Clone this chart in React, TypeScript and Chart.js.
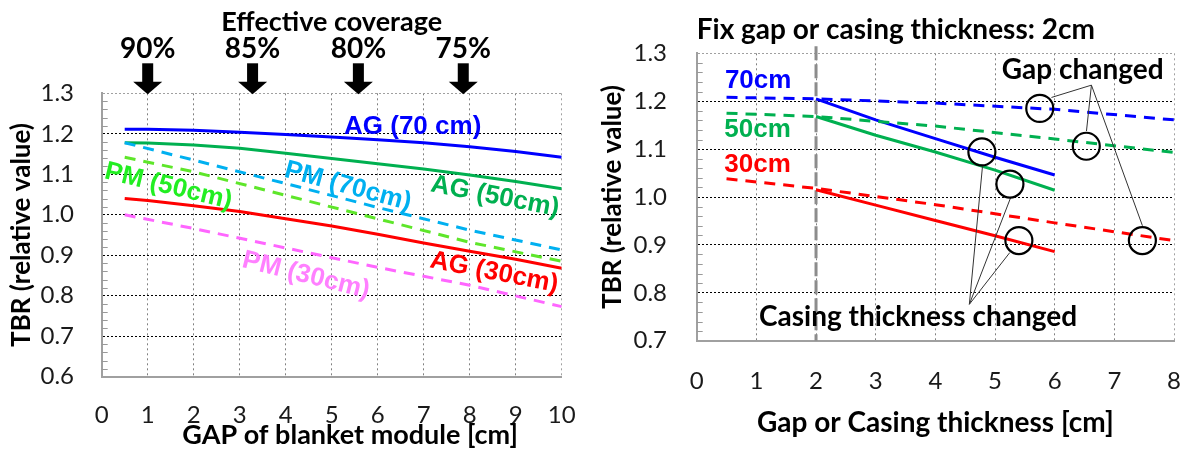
import React, { useEffect, useRef } from 'react';
import { Chart, registerables } from 'chart.js';

Chart.register(...registerables);

// ---------------- LEFT CHART DATA ----------------
const leftGap = [0.5, 1, 2, 3, 4, 5, 6, 7, 8, 9, 10];
const ag70 = [1.211, 1.211, 1.209, 1.204, 1.198, 1.192, 1.185, 1.178, 1.168, 1.156, 1.142];
const ag50 = [1.178, 1.177, 1.172, 1.164, 1.152, 1.139, 1.126, 1.113, 1.098, 1.082, 1.064];
const ag30 = [1.04, 1.035, 1.022, 1.008, 0.99, 0.972, 0.952, 0.93, 0.91, 0.89, 0.868];
const pmGap = [0.5, 2, 4, 6, 8, 10];
const pm70 = [1.178, 1.135, 1.077, 1.018, 0.962, 0.913];
const pm50 = [1.142, 1.106, 1.048, 0.99, 0.932, 0.885];
const pm30 = [1.0, 0.966, 0.918, 0.87, 0.826, 0.773];

const coverageLabels = ['90%', '85%', '80%', '75%'];
const coverageGap = [1, 3.28, 5.58, 7.86];

const leftLabelTexts = ['AG (70 cm)', 'AG (50cm)', 'AG (30cm)', 'PM (70cm)', 'PM (50cm)', 'PM (30cm)'];
const leftLabelX = [6.76, 8.55, 8.53, 5.35, 1.45, 4.44];
const leftLabelY = [1.217, 1.045, 0.857, 1.07, 1.07, 0.85];
const leftLabelAngle = [0, 11, 11, 15, 13.6, 14];
const leftXTitle = { text: 'GAP of blanket module [cm]', x: 5.4 };

// ---------------- RIGHT CHART DATA ----------------
const gapX = [0.5, 2, 4, 6, 8];
const gap70 = [1.208, 1.205, 1.196, 1.183, 1.161];
const gap50 = [1.175, 1.168, 1.148, 1.121, 1.093];
const gap30 = [1.038, 1.018, 0.984, 0.946, 0.909];
const casingX = [2, 3, 4, 5, 6];
const casing70 = [1.205, 1.161, 1.122, 1.083, 1.046];
const casing50 = [1.168, 1.129, 1.094, 1.056, 1.014];
const casing30 = [1.015, 0.983, 0.951, 0.919, 0.886];

const rightLabelTexts = ['70cm', '50cm', '30cm'];
const rightLabelX = [1.03, 1.02, 1.02];
const rightLabelY = [1.242, 1.141, 1.068];

const fixedValue = 2;
const circleX = [5.75, 6.53, 7.47, 4.78, 5.25, 5.4];
const circleY = [1.185, 1.106, 0.909, 1.094, 1.027, 0.909];
const gapApex = [6.616, 1.2335];
const gapEnds = [[5.946, 1.2078], [6.533, 1.1377], [7.471, 0.94]];
const casingApex = [4.57, 0.776];
const casingEnds = [[4.79, 1.0637], [5.26, 0.998], [5.248, 0.884]];
const gapNote = { text: 'Gap changed', x: 6.47, y: 1.265 };
const casingNote = { text: 'Casing thickness changed', x: 3.71, y: 0.749 };

const BLUE = '#0000ff';
const GREEN = '#00b050';
const RED = '#ff0000';
const SKY = '#00b0f0';
const LIME = '#5ee62a';
const PINK = '#ff66ff';
const leftLabelColor = [BLUE, GREEN, RED, SKY, '#22ee22', '#ff80ff'];
const rightLabelColor = [BLUE, GREEN, RED];

const FONT = 'Lato';
const LABEL_FONT = 'bold 26px "Liberation Sans", Arial, sans-serif';
const NOTE_FONT = `bold 28px ${FONT}, sans-serif`;

const pts = (xs: number[], ys: number[]) => xs.map((x, i) => ({ x, y: ys[i] }));

function text(ctx: CanvasRenderingContext2D, s: string, x: number, y: number, font: string, color: string, angleDeg = 0, align: CanvasTextAlign = 'center') {
  ctx.save();
  ctx.translate(x, y);
  ctx.rotate((angleDeg * Math.PI) / 180);
  ctx.font = font;
  ctx.fillStyle = color;
  ctx.textAlign = align;
  ctx.textBaseline = 'middle';
  ctx.fillText(s, 0, 0);
  ctx.restore();
}

function minorTicks(chart: any) {
  const ctx = chart.ctx;
  const ys = chart.scales.y;
  const ca = chart.chartArea;
  ctx.save();
  ctx.strokeStyle = '#999';
  ctx.lineWidth = 1;
  const n = Math.round((ys.max - ys.min) / 0.02);
  for (let i = 1; i < n; i++) {
    if (i % 5 === 0) continue;
    const y = Math.round(ys.getPixelForValue(ys.min + i * 0.02)) + 0.5;
    ctx.beginPath();
    ctx.moveTo(ca.left, y);
    ctx.lineTo(ca.left + 6, y);
    ctx.stroke();
  }
  ctx.restore();
}

const leftDeco = {
  id: 'leftDeco',
  afterDraw(chart: any) {
    const ctx = chart.ctx;
    const xs = chart.scales.x;
    const ys = chart.scales.y;
    const ca = chart.chartArea;
    minorTicks(chart);
    text(ctx, 'Effective coverage', (ca.left + ca.right) / 2, ca.top - 71, `bold 27px ${FONT}, sans-serif`, '#000');
    coverageGap.forEach((g, i) => {
      const px = xs.getPixelForValue(g);
      text(ctx, coverageLabels[i], px, ca.top - 44, `bold 28px ${FONT}, sans-serif`, '#000');
      ctx.save();
      ctx.fillStyle = '#000';
      ctx.fillRect(px - 5.5, ca.top - 30, 11, 19);
      ctx.beginPath();
      ctx.moveTo(px - 14.5, ca.top - 11.5);
      ctx.lineTo(px + 14.5, ca.top - 11.5);
      ctx.lineTo(px, ca.top + 1);
      ctx.closePath();
      ctx.fill();
      ctx.restore();
    });
    leftLabelTexts.forEach((s, i) => {
      text(ctx, s, xs.getPixelForValue(leftLabelX[i]), ys.getPixelForValue(leftLabelY[i]), LABEL_FONT, leftLabelColor[i], leftLabelAngle[i]);
    });
    text(ctx, leftXTitle.text, xs.getPixelForValue(leftXTitle.x), ca.bottom + 59, `bold 27px ${FONT}, sans-serif`, '#000');
  },
};

const rightDeco = {
  id: 'rightDeco',
  beforeDatasetsDraw(chart: any) {
    const ctx = chart.ctx;
    const xs = chart.scales.x;
    const ca = chart.chartArea;
    const px = xs.getPixelForValue(fixedValue);
    ctx.save();
    ctx.strokeStyle = '#8c8c8c';
    ctx.lineWidth = 3;
    ctx.setLineDash([14, 4]);
    ctx.beginPath();
    ctx.moveTo(px, ca.top - 7);
    ctx.lineTo(px, ca.bottom);
    ctx.stroke();
    ctx.restore();
  },
  afterDraw(chart: any) {
    const ctx = chart.ctx;
    const xs = chart.scales.x;
    const ys = chart.scales.y;
    const ca = chart.chartArea;
    minorTicks(chart);
    text(ctx, 'Fix gap or casing thickness: 2cm', ca.left, ca.top - 23, NOTE_FONT, '#000', 0, 'left');
    rightLabelTexts.forEach((s, i) => {
      text(ctx, s, xs.getPixelForValue(rightLabelX[i]), ys.getPixelForValue(rightLabelY[i]), LABEL_FONT, rightLabelColor[i]);
    });
    const P = (p: number[]) => [xs.getPixelForValue(p[0]), ys.getPixelForValue(p[1])];
    ctx.save();
    ctx.strokeStyle = '#333';
    ctx.lineWidth = 1;
    const a = P(gapApex);
    gapEnds.forEach((e) => {
      const b = P(e);
      ctx.beginPath();
      ctx.moveTo(a[0], a[1]);
      ctx.lineTo(b[0], b[1]);
      ctx.stroke();
    });
    const c = P(casingApex);
    casingEnds.forEach((e) => {
      const b = P(e);
      ctx.beginPath();
      ctx.moveTo(c[0], c[1]);
      ctx.lineTo(b[0], b[1]);
      ctx.stroke();
    });
    ctx.strokeStyle = '#000';
    ctx.lineWidth = 2.2;
    circleX.forEach((cx, i) => {
      ctx.beginPath();
      ctx.arc(xs.getPixelForValue(cx), ys.getPixelForValue(circleY[i]), 13.5, 0, Math.PI * 2);
      ctx.stroke();
    });
    ctx.restore();
    text(ctx, gapNote.text, xs.getPixelForValue(gapNote.x), ys.getPixelForValue(gapNote.y), NOTE_FONT, '#000');
    text(ctx, casingNote.text, xs.getPixelForValue(casingNote.x), ys.getPixelForValue(casingNote.y), NOTE_FONT, '#000');
  },
};

function makeScales(o: {
  xMax: number; yMin: number; yMax: number; xTitle: string; showXTitle: boolean; xHeight: number; yWidth: number;
  xTickLen: number; yTickPad: number; xTitlePad: number; yTitlePad: number;
}) {
  return {
    x: {
      type: 'linear',
      min: 0,
      max: o.xMax,
      ticks: { stepSize: 1, padding: 0, font: { family: FONT, size: 24 }, color: '#1a1a1a', maxRotation: 0, autoSkip: false },
      grid: {
        color: (c: any) => (c.tick && c.tick.value === o.xMax ? '#a0a0a0' : '#808080'),
        lineWidth: 1,
        drawTicks: true,
        tickLength: o.xTickLen,
        tickColor: 'rgba(0,0,0,0)',
      },
      border: { display: true, color: '#a0a0a0', width: 2, dash: [2, 3] },
      title: { display: o.showXTitle, text: o.xTitle, font: { family: FONT, size: 28, weight: 'bold' }, color: '#000', padding: { top: 0, bottom: o.xTitlePad } },
      afterFit: (s: any) => { s.height = o.xHeight; },
    },
    y: {
      min: o.yMin,
      max: o.yMax,
      ticks: { stepSize: 0.1, padding: o.yTickPad, font: { family: FONT, size: 24 }, color: '#1a1a1a', callback: (v: any) => Number(v).toFixed(1) },
      grid: { color: (c: any) => (c.tick && Math.abs(c.tick.value - o.yMax) < 1e-6 ? '#a0a0a0' : '#000'), lineWidth: 1, drawTicks: false },
      border: { display: true, color: '#a0a0a0', width: 2, dash: [2, 2] },
      title: { display: true, text: 'TBR (relative value)', font: { family: FONT, size: 26, weight: 'bold' }, color: '#000', padding: { top: o.yTitlePad, bottom: 0 } },
      afterFit: (s: any) => { s.width = o.yWidth; },
    },
  };
}

const lineDs = (data: any, color: string, dashed: boolean) => ({
  data,
  borderColor: color,
  backgroundColor: color,
  borderWidth: 3,
  borderDash: dashed ? [11, 8] : [],
  pointRadius: 0,
  tension: 0,
  fill: false,
});

function useChart(ref: React.RefObject<HTMLCanvasElement>, cfg: () => any) {
  useEffect(() => {
    if (!ref.current) return;
    const ch = new Chart(ref.current, cfg());
    return () => ch.destroy();
  }, []);
}

export default function App() {
  const leftRef = useRef<HTMLCanvasElement>(null);
  const rightRef = useRef<HTMLCanvasElement>(null);

  useChart(leftRef, () => ({
    type: 'line',
    data: {
      datasets: [
        lineDs(pts(pmGap, pm30), PINK, true),
        lineDs(pts(pmGap, pm50), LIME, true),
        lineDs(pts(pmGap, pm70), SKY, true),
        lineDs(pts(leftGap, ag30), RED, false),
        lineDs(pts(leftGap, ag50), GREEN, false),
        lineDs(pts(leftGap, ag70), BLUE, false),
      ],
    },
    options: {
      animation: false,
      responsive: false,
      events: [],
      layout: { padding: { left: 0, top: 93.3, right: 28.3, bottom: 0 } },
      plugins: { legend: { display: false }, tooltip: { enabled: false } },
      scales: makeScales({
        xMax: 10, yMin: 0.6, yMax: 1.3, xTitle: leftXTitle.text, showXTitle: false,
        xHeight: 75.3, yWidth: 101.7, xTickLen: 24, yTickPad: 27.7, xTitlePad: 0, yTitlePad: 5.8,
      }),
    },
    plugins: [leftDeco],
  }));

  useChart(rightRef, () => ({
    type: 'line',
    data: {
      datasets: [
        lineDs(pts(gapX, gap30), RED, true),
        lineDs(pts(gapX, gap50), GREEN, true),
        lineDs(pts(gapX, gap70), BLUE, true),
        lineDs(pts(casingX, casing30), RED, false),
        lineDs(pts(casingX, casing50), GREEN, false),
        lineDs(pts(casingX, casing70), BLUE, false),
      ],
    },
    options: {
      animation: false,
      responsive: false,
      events: [],
      layout: { padding: { left: 0, top: 53.3, right: 10, bottom: 0 } },
      plugins: { legend: { display: false }, tooltip: { enabled: false } },
      scales: makeScales({
        xMax: 8, yMin: 0.7, yMax: 1.3, xTitle: 'Gap or Casing thickness [cm]', showXTitle: true,
        xHeight: 111.3, yWidth: 106.7, xTickLen: 26.6, yTickPad: 29.7, xTitlePad: 12.2, yTitlePad: 6.9,
      }),
    },
    plugins: [rightDeco],
  }));

  return (
    <div style={{ position: 'absolute', left: 0, top: 0, width: 1184, height: 452, background: '#fff', overflow: 'hidden' }}>
      <canvas ref={leftRef} width={590} height={452} style={{ position: 'absolute', left: 0, top: 0, width: 590, height: 452 }} />
      <canvas ref={rightRef} width={594} height={452} style={{ position: 'absolute', left: 590, top: 0, width: 594, height: 452 }} />
    </div>
  );
}
